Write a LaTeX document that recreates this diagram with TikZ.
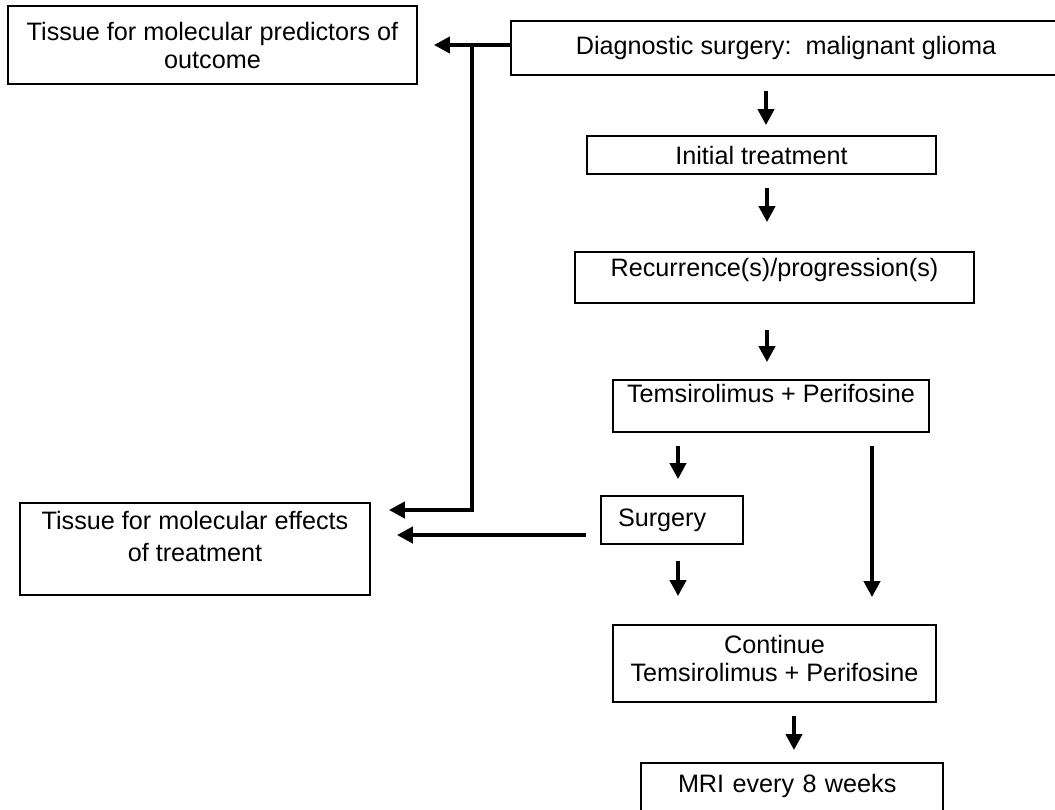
\documentclass[tikz,border=0pt]{standalone}
\usepackage{fontspec}
\setmainfont{Liberation Sans}
\usetikzlibrary{arrows.meta}
\tikzset{
  box/.style={rectangle, draw=black, line width=0.9pt, align=center, inner ysep=1pt, font=\fontsize{12.6}{14}\selectfont},
  arrow/.style={-{Triangle[length=8pt, width=8pt]}, line width=2.3pt},
}

\begin{document}
\begin{tikzpicture}[x=0.5pt, y=-0.5pt]
  \useasboundingbox (0,0) rectangle (1055,809);
  \node[box, minimum width=204.5pt, minimum height=39pt] (predict) at (212.5,45) {Tissue for molecular predictors of\\outcome};
  \node[box, minimum width=275pt, minimum height=27pt] (diag) at (786,48) {Diagnostic surgery:\ \ malignant glioma};
  \node[box, minimum width=174.5pt, minimum height=19pt] (initial) at (761.5,155) {Initial treatment};
  \node[box, minimum width=199.5pt, minimum height=25.5pt, text depth=10pt] (recur) at (774.5,277.5) {Recurrence(s)/progression(s)};
  \node[box, minimum width=158pt, minimum height=26pt, text depth=13pt] (temsi) at (771,406) {Temsirolimus + Perifosine};
  \node[box, minimum height=24pt, text width=54pt, inner xsep=8.5pt, align=left] (surg) at (672,520) {Surgery};
  \node[box, minimum width=175pt, minimum height=46pt, text depth=13pt] (effects) at (195,549) {Tissue for molecular effects\\[2pt]of treatment};
  \node[box, minimum width=161.5pt, minimum height=38.5pt, text depth=5.5pt] (cont) at (774.5,663.5) {Continue\\Temsirolimus + Perifosine};
  \node[box, minimum height=36pt, text width=114pt, inner xsep=18.5pt, align=left, text depth=16pt] (mri) at (792,799) {MRI every 8 weeks};
  \draw[arrow] ([xshift=-10pt, yshift=-7.5pt]diag.south) -- ([xshift=2.25pt, yshift=5pt]initial.north);
  \draw[arrow] ([xshift=2.75pt, yshift=-6.5pt]initial.south) -- ([xshift=-3.75pt, yshift=14.5pt]recur.north);
  \draw[arrow] ([xshift=-3.75pt, yshift=-13pt]recur.south) -- ([xshift=-2pt, yshift=8.5pt]temsi.north);
  \draw[arrow] ([xshift=-46.5pt, yshift=-6.5pt]temsi.south) -- ([xshift=3pt, yshift=8pt]surg.north);
  \draw[arrow] ([xshift=50.5pt, yshift=-6.5pt]temsi.south) -- ([xshift=48.75pt, yshift=13.5pt]cont.north);
  \draw[arrow] ([xshift=3pt, yshift=-8pt]surg.south) -- ([xshift=-48.25pt, yshift=14pt]cont.north);
  \draw[arrow] ([xshift=9.75pt, yshift=-6.5pt]cont.south) -- ([xshift=1pt, yshift=6pt]mri.north);
  \draw[arrow] ([xshift=-7pt, yshift=-7.5pt]surg.west) -- ([xshift=13pt, yshift=7pt]effects.east);
  \coordinate (fork) at (472,45);
  \draw[arrow] ([yshift=1.5pt]diag.west) -- ([xshift=8pt]predict.east);
  \draw[arrow] (fork) |- ([xshift=9pt, yshift=19.5pt]effects.east);
\end{tikzpicture}
\end{document}
